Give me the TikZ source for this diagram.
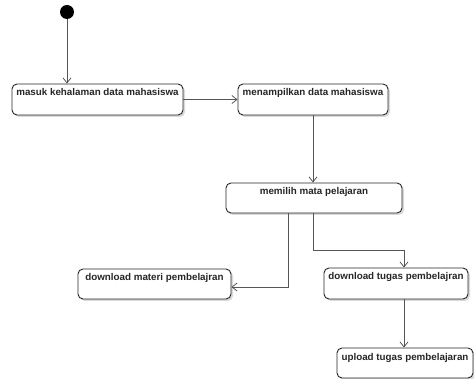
\documentclass[tikz,border=0pt]{standalone}
\usepackage{fontspec}
\setmainfont{Liberation Sans}
\usetikzlibrary{arrows.meta,shadows}
\definecolor{edge}{HTML}{555555}
\definecolor{ink}{HTML}{262626}
\tikzset{
  act/.style={draw=ink, line width=0.9pt, rounded corners=5pt, fill=white,
    inner xsep=1pt, inner ysep=3pt, text height=9pt, align=center,
    font=\fontsize{9.8}{11}\selectfont\bfseries, text=ink,
    drop shadow={shadow xshift=2pt, shadow yshift=-2pt, opacity=0.15, fill=black}},
  flow/.style={draw=edge, line width=0.8pt, -{Straight Barb[length=5pt,width=8pt]}},
}
\begin{document}
\begin{tikzpicture}[x=1pt, y=-1pt]
\useasboundingbox (0,0) rectangle (474,379);
% initial state
\node[circle, fill=black, minimum size=14pt, inner sep=0pt] (start) at (67,12) {};
% activities
\node[act, minimum width=171pt, minimum height=31pt, text depth=16pt] (masuk) at (97.5,99.5) {masuk kehalaman data mahasiswa};
\node[act, minimum width=150pt, minimum height=31pt, text depth=16pt] (tampil) at (313,99.5) {menampilkan data mahasiswa};
\node[act, minimum width=176pt, minimum height=30pt, text depth=15pt] (pilih) at (314,198) {memilih mata pelajaran};
\node[act, minimum width=153pt, minimum height=30pt, text depth=15pt] (materi) at (154.5,284) {download materi pembelajran};
\node[act, minimum width=144pt, minimum height=31pt, text depth=16pt] (tugas) at (396,283.5) {download tugas pembelajran};
\node[act, minimum width=136pt, minimum height=30pt, text depth=15pt] (upload) at (405,363) {upload tugas pembelajaran};
% transitions
\draw[flow] (start) -- (start |- masuk.north);
\draw[flow] (masuk.east) -- (tampil.west);
\draw[flow] (tampil.south) -- (tampil.south |- pilih.north);
\draw[flow] ([xshift=-26pt]pilih.south) |- ([yshift=-3pt]materi.east);
\draw[flow] ([xshift=-1pt]pilih.south) -- ++(0,37) -| ([xshift=8pt]tugas.north);
\draw[flow] ([xshift=8pt]tugas.south) -- ([xshift=8pt]tugas.south |- upload.north);
\end{tikzpicture}
\end{document}
